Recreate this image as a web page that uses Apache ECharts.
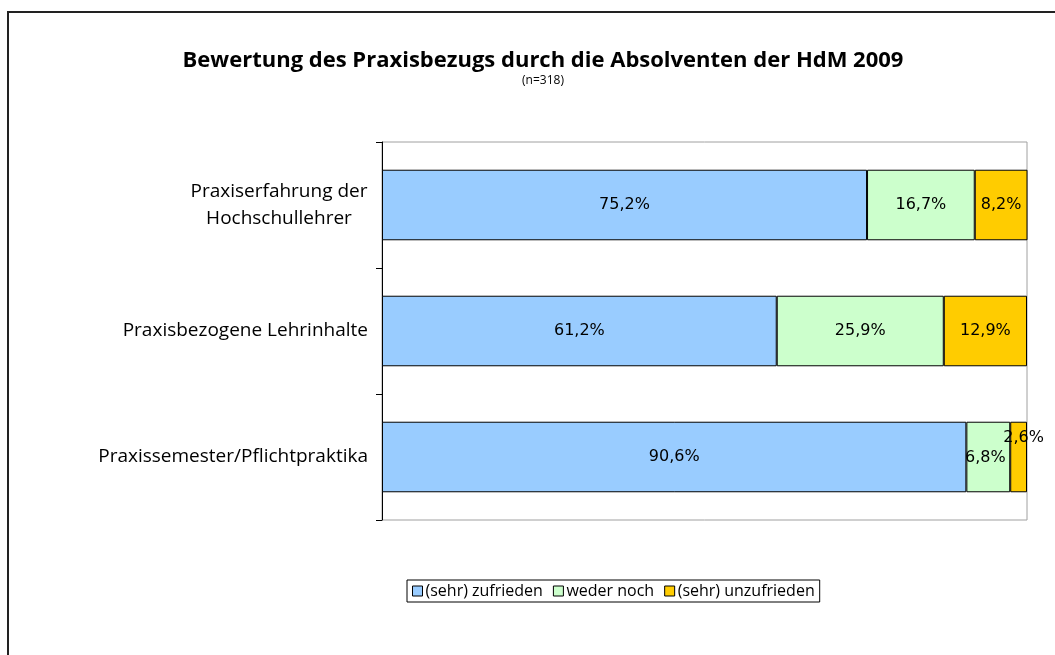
<!DOCTYPE html>
<html>
<head>
<meta charset="utf-8">
<script src="https://cdn.jsdelivr.net/npm/echarts@6/dist/echarts.min.js"></script>
<style>
  html, body { margin: 0; padding: 0; background: #fff; }
  #chart { width: 1055px; height: 655px; }
</style>
</head>
<body>
<div id="chart"></div>
<script>
var categories = ['Praxiserfahrung der\nHochschullehrer', 'Praxisbezogene Lehrinhalte', 'Praxissemester/Pflichtpraktika'];
var zufrieden = [75.2, 61.2, 90.6];
var wederNoch = [16.7, 25.9, 6.8];
var unzufrieden = [8.2, 12.9, 2.6];
var seriesNames = ['(sehr) zufrieden', 'weder noch', '(sehr) unzufrieden'];
var colors = ['#99ccff', '#ccffcc', '#ffcc00'];

var labelFont = 'Open Sans';
var valueFont = 'DejaVu Sans';

function pct(v) {
    return v.toFixed(1).replace('.', ',') + '%';
}

// Excel moved the crowded labels of the last bar a little
var labelOffsets = {
    'weder noch': [[0, 0], [0, 0], [-3, 1]],
    '(sehr) unzufrieden': [[0, 0], [0, 0], [5, -19]]
};

function makeSeries(name, values, color) {
    return {
        name: name,
        type: 'bar',
        stack: 'total',
        barCategoryGap: '44%',
        itemStyle: { color: color, borderColor: '#000', borderWidth: 1 },
        label: {
            show: true,
            position: 'inside',
            color: '#000',
            fontFamily: valueFont,
            fontSize: 16,
            formatter: function (p) { return pct(p.value); }
        },
        data: values.map(function (v, i) {
            var d = { value: v };
            if (labelOffsets[name]) {
                d.label = { offset: labelOffsets[name][i] };
            }
            return d;
        })
    };
}

var chart = echarts.init(document.getElementById('chart'));
chart.setOption({
    animation: false,
    title: {
        text: 'Bewertung des Praxisbezugs durch die Absolventen der HdM 2009',
        subtext: '(n=318)',
        left: 538,
        textAlign: 'center',
        top: 45,
        itemGap: 3,
        textStyle: { fontFamily: labelFont, fontSize: 22, fontWeight: 'bold', color: '#000' },
        subtextStyle: { fontFamily: labelFont, fontSize: 12, color: '#000' }
    },
    graphic: [{
        type: 'rect',
        shape: { x: 8, y: 12, width: 1100, height: 700 },
        style: { fill: 'none', stroke: '#222', lineWidth: 2 },
        silent: true
    }],
    legend: {
        left: 407,
        top: 580,
        data: seriesNames,
        icon: 'rect',
        itemWidth: 10,
        itemHeight: 10,
        itemGap: 10,
        padding: [3, 5, 3, 5],
        borderColor: '#000',
        borderWidth: 1,
        itemStyle: { borderColor: '#000', borderWidth: 1 },
        textStyle: { fontFamily: labelFont, fontSize: 16, color: '#000', padding: [0, 0, 0, -2] }
    },
    grid: {
        left: 382,
        top: 142,
        right: 28,
        bottom: 135,
        show: true,
        borderColor: '#a0a0a0',
        borderWidth: 1
    },
    xAxis: {
        type: 'value',
        min: 0,
        max: 100,
        show: false
    },
    yAxis: {
        type: 'category',
        inverse: true,
        data: categories,
        axisLine: { show: true, lineStyle: { color: '#000', width: 1 } },
        axisTick: { show: true, length: 6, lineStyle: { color: '#000' } },
        axisLabel: {
            margin: 14,
            color: '#000',
            fontFamily: labelFont,
            fontSize: 19,
            lineHeight: 27,
            formatter: function (v) {
                if (v.indexOf('\n') >= 0) {
                    return v.split('\n').map(function (s) { return '{c|' + s + '}'; }).join('\n');
                }
                return v;
            },
            rich: {
                c: { width: 178, align: 'center', fontFamily: labelFont, fontSize: 19, lineHeight: 27, color: '#000' }
            }
        }
    },
    series: [
        makeSeries(seriesNames[0], zufrieden, colors[0]),
        makeSeries(seriesNames[1], wederNoch, colors[1]),
        makeSeries(seriesNames[2], unzufrieden, colors[2])
    ]
});
</script>
</body>
</html>
